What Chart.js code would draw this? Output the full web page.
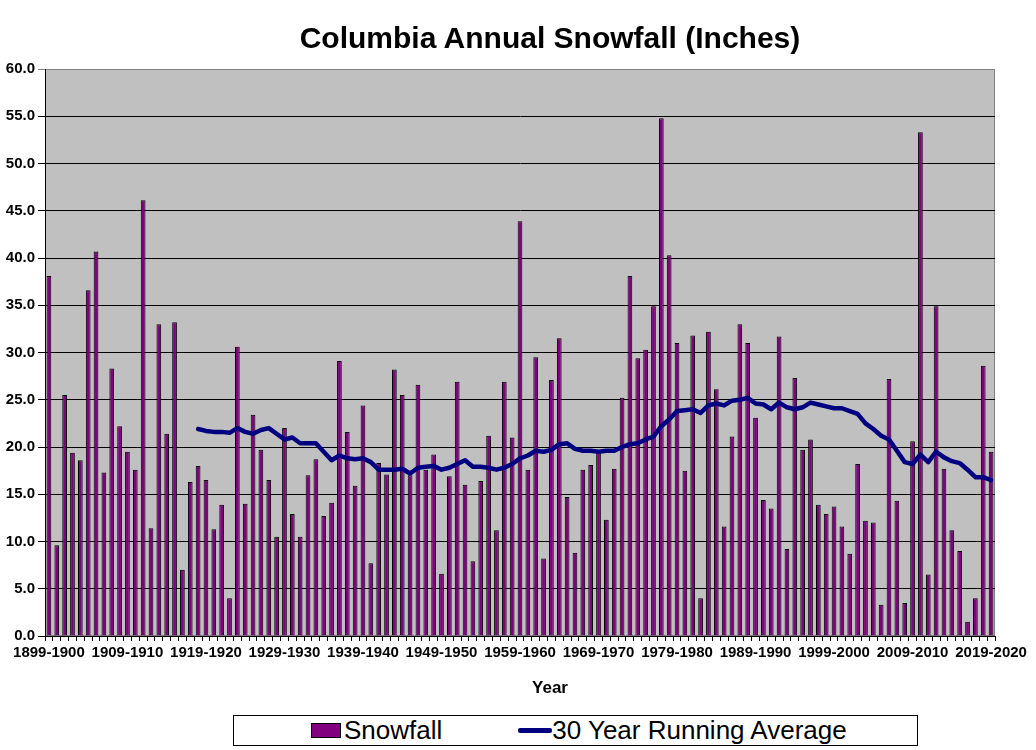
<!DOCTYPE html>
<html>
<head>
<meta charset="utf-8">
<title>Columbia Annual Snowfall (Inches)</title>
<script src="https://cdn.jsdelivr.net/npm/chart.js@4.4.1/dist/chart.umd.min.js"></script>
<style>
html, body { margin:0; padding:0; background:#fff; }
#wrap {
    position:relative; width:1036px; height:750px; overflow:hidden;
    font-family:"Liberation Sans", Arial, sans-serif; color:#000;
}
#chart { position:absolute; left:0; top:0; }
#title {
    position:absolute; left:64px; width:972px; top:20px;
    line-height:36px; text-align:center; font-size:30px; font-weight:bold;
}
#xTitle {
    position:absolute; left:64px; width:972px; top:678px;
    line-height:20px; text-align:center; font-size:17px; font-weight:bold;
}
#legend {
    position:absolute; left:233px; top:715px; width:685px; height:31px;
    box-sizing:border-box; border:1px solid #000; background:#fff;
    display:flex; align-items:center; padding-left:77px;
    font-size:26px; line-height:29px; white-space:nowrap;
}
.item { display:flex; align-items:center; }
.item + .item { margin-left:76px; }
.swatch { box-sizing:border-box; margin-right:3px; }
</style>
</head>
<body>

<div id="wrap">
    <canvas id="chart" width="1036" height="750"></canvas>
    <div id="title">Columbia Annual Snowfall (Inches)</div>
    <div id="xTitle">Year</div>
    <div id="legend"></div>
</div>

<script>

// ======================================
// DATA
// ======================================

const firstSeason = 1899;

const labelEvery = 10;

// inches, one value per season 1899-1900 ... 2019-2020
const snowfall = [
    38.1, 9.6, 25.5, 19.4, 18.6, 36.6, 40.7, 17.3, 28.3, 22.2,
    19.5, 17.6, 46.1, 11.4, 33.0, 21.4, 33.2, 7.0, 16.3, 18.0,
    16.5, 11.3, 13.9, 4.0, 30.6, 14.0, 23.4, 19.7, 16.5, 10.5,
    22.0, 12.9, 10.5, 17.0, 18.7, 12.7, 14.1, 29.1, 21.6, 15.9,
    24.4, 7.7, 18.3, 17.1, 28.2, 25.5, 17.0, 26.6, 17.6, 19.2,
    6.6, 16.9, 26.9, 16.0, 7.9, 16.4, 21.2, 11.2, 26.9, 21.0,
    43.9, 17.6, 29.5, 8.2, 27.1, 31.5, 14.7, 8.8, 17.6, 18.1,
    19.4, 12.3, 17.7, 25.2, 38.1, 29.4, 30.3, 34.9, 54.8, 40.3,
    31.0, 17.5, 31.8, 4.0, 32.2, 26.1, 11.6, 21.1, 33.0, 31.0,
    23.1, 14.4, 13.5, 31.7, 9.2, 27.3, 19.7, 20.8, 13.9, 12.9,
    13.7, 11.6, 8.7, 18.2, 12.2, 12.0, 3.3, 27.2, 14.3, 3.5,
    20.6, 53.3, 6.5, 34.9, 17.7, 11.2, 9.0, 1.5, 4.0, 28.6,
    19.5
];

// 30 year running average, starts with 1918-1919
const runningAverage = [
    null, null, null, null, null, null, null, null, null, null,
    null, null, null, null, null, null, null, null, null, 21.9,
    21.7, 21.6, 21.6, 21.5, 22.0, 21.6, 21.4, 21.8, 22.0, 21.4,
    20.8, 21.0, 20.4, 20.4, 20.4, 19.5, 18.6, 19.1, 18.8, 18.7,
    18.8, 18.4, 17.6, 17.6, 17.6, 17.7, 17.2, 17.8, 17.9, 18.0,
    17.6, 17.8, 18.2, 18.6, 17.9, 17.9, 17.8, 17.6, 17.8, 18.2,
    18.8, 19.1, 19.6, 19.5, 19.7, 20.3, 20.4, 19.8, 19.6, 19.6,
    19.5, 19.6, 19.6, 20.0, 20.3, 20.4, 20.8, 21.1, 22.2, 22.9,
    23.8, 23.9, 24.0, 23.6, 24.4, 24.6, 24.4, 24.9, 25.0, 25.2,
    24.6, 24.5, 24.0, 24.7, 24.2, 24.0, 24.2, 24.7, 24.5, 24.3,
    24.1, 24.1, 23.8, 23.5, 22.5, 21.9, 21.2, 20.8, 19.6, 18.4,
    18.2, 19.2, 18.4, 19.5, 18.9, 18.5, 18.3, 17.6, 16.8, 16.8,
    16.5
];

const seasons = [];

for(let i = 0; i < snowfall.length; i++){

    const year = firstSeason + i;

    seasons.push(year + "-" + (year + 1));

}

// ======================================
// PLOT BACKGROUND
// ======================================

const plotBackground = {

    id:"plotBackground",

    beforeDraw(chart){

        const { ctx, chartArea:a } = chart;

        ctx.save();

        ctx.fillStyle = "#c0c0c0";
        ctx.fillRect(a.left, a.top, a.right - a.left, a.bottom - a.top);

        ctx.strokeStyle = "#808080";
        ctx.lineWidth = 1;
        ctx.strokeRect(a.left + 0.5, a.top + 0.5, a.right - a.left - 1, a.bottom - a.top - 1);

        ctx.restore();

    }

};

// ======================================
// CHART
// ======================================

Chart.defaults.font.family = "'Liberation Sans', Arial, sans-serif";
Chart.defaults.color = "#000";

const chart = new Chart(

    document.getElementById("chart"),

    {

        type:"bar",

        data:{

            labels:seasons,

            datasets:[

                {
                    label:"Snowfall",
                    data:snowfall,
                    backgroundColor:"#800080",
                    borderColor:"#000",
                    borderWidth:1,
                    barPercentage:0.6,
                    categoryPercentage:1,
                    order:1
                },

                {
                    type:"line",
                    label:"30 Year Running Average",
                    data:runningAverage,
                    borderColor:"#000080",
                    backgroundColor:"#000080",
                    borderWidth:4.5,
                    pointRadius:0,
                    tension:0,
                    borderJoinStyle:"round",
                    borderCapStyle:"round",
                    order:0
                }

            ]

        },

        options:{

            responsive:false,
            animation:false,

            layout:{
                padding:{ top:69, right:41, bottom:0, left:0 }
            },

            plugins:{
                legend:{ display:false },
                title:{ display:false },
                tooltip:{ enabled:false }
            },

            scales:{

                x:{
                    afterFit(scale){ scale.height = 114; },
                    grid:{
                        offset:true,
                        drawOnChartArea:false,
                        color:"#000",
                        tickLength:5
                    },
                    border:{ color:"#000", width:1 },
                    ticks:{
                        autoSkip:false,
                        maxRotation:0,
                        minRotation:0,
                        padding:3,
                        font:{ size:15, weight:"bold" },
                        callback(value, index){
                            return index % labelEvery === 0 ? seasons[index] : "";
                        }
                    }
                },

                y:{
                    min:0,
                    max:60,
                    afterFit(scale){ scale.width = 45; },
                    grid:{
                        color:c => (c.tick && c.tick.value === 60) ? "#808080" : "#000",
                        tickLength:7
                    },
                    border:{ color:"#000", width:1 },
                    ticks:{
                        stepSize:5,
                        padding:3,
                        font:{ size:15, weight:"bold" },
                        callback:v => Number(v).toFixed(1)
                    }
                }

            }

        },

        plugins:[plotBackground]

    }

);

// ======================================
// LEGEND
// ======================================

function buildLegend(){

    const box = document.getElementById("legend");

    chart.data.datasets.forEach(ds=>{

        const item = document.createElement("div");
        item.className = "item";

        const swatch = document.createElement("span");
        swatch.className = "swatch";

        if(ds.type === "line"){
            swatch.style.width = "34px";
            swatch.style.height = "5px";
            swatch.style.background = ds.borderColor;
            swatch.style.borderRadius = "2px";
            swatch.style.marginRight = "0";
        }
        else{
            swatch.style.width = "30px";
            swatch.style.height = "15px";
            swatch.style.background = ds.backgroundColor;
            swatch.style.border = "1px solid " + ds.borderColor;
        }

        const text = document.createElement("span");
        text.innerText = ds.label;

        item.appendChild(swatch);
        item.appendChild(text);
        box.appendChild(item);

    });

}

buildLegend();

</script>

</body>
</html>
